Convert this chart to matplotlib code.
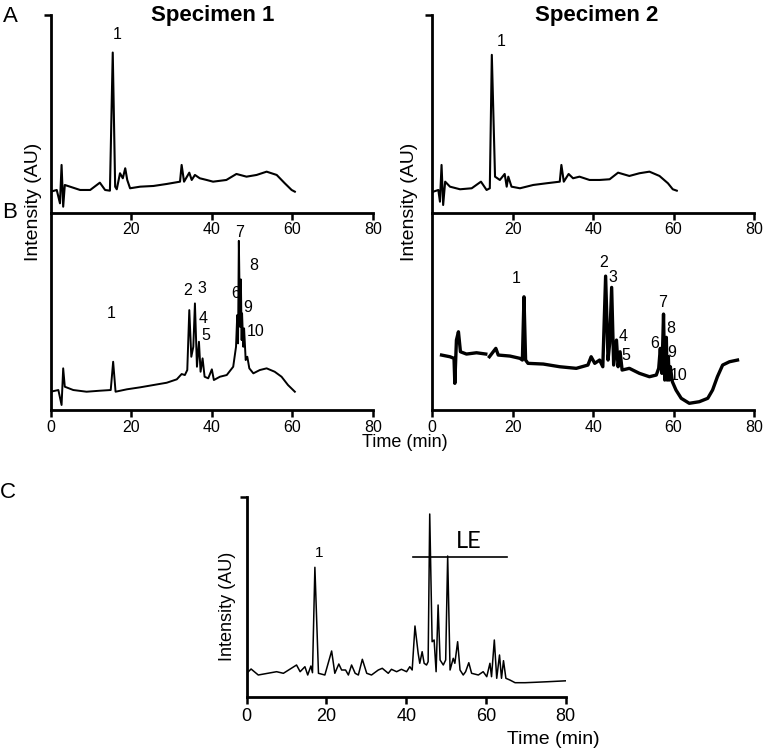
import numpy as np
import matplotlib
matplotlib.use("Agg")
import matplotlib.pyplot as plt

plt.rcParams['font.family'] = ['Liberation Sans', 'DejaVu Sans']

W, H = 765, 752

# ---- data (time in min, intensity in arbitrary units) ----
a1_time = [0, 1.5, 2.3, 2.7, 3.1, 3.5, 4.8, 7.3, 9.8, 12.2, 13.5, 14.7, 15.4, 16.0, 16.4, 17.2,
           17.9, 18.5, 19.0, 19.7, 22.2, 25.5, 28.8, 32.1, 32.5, 33.1, 34.4, 35.0, 35.8, 37.0,
           38.7, 40.3, 43.6, 46.1, 48.6, 51.1, 53.6, 56.1, 58.1, 59.8, 60.6]
a1_int = [21, 22.7, 9.4, 47.7, 6, 27.7, 26, 22.7, 22.7, 30, 22.7, 22, 160, 26, 23.4, 39.4,
          34.4, 44.4, 32.7, 24.4, 26, 26.7, 28.7, 31, 47.7, 31, 40, 32.7, 37.7, 34.4,
          32.7, 31, 32.7, 38.7, 36, 37.7, 41, 37.7, 29.4, 22.7, 21]

a2_time = [0.25, 1.5, 1.9, 2.3, 2.7, 3.2, 4.4, 6.9, 9.8, 12.1, 13.5, 14.3, 14.8, 15.6, 16.8,
           18.0, 18.5, 18.9, 19.7, 21.8, 25.1, 28.4, 31.7, 32.1, 32.7, 33.9, 35.0, 36.6, 39.1,
           41.6, 44.1, 46.2, 49.0, 51.5, 54.0, 56.5, 58.6, 59.8, 60.8]
a2_int = [21, 22.7, 11, 47.7, 7.7, 31, 26, 23.4, 24.4, 31, 22.7, 24.4, 157.7, 36, 32.7,
          38.7, 26, 36, 26, 24.4, 27.7, 29.4, 31, 47.7, 31, 38.7, 34.4, 36, 32.7,
          32.7, 33.4, 40, 36.7, 39.4, 41, 36.7, 29.4, 23.4, 22]

b1_time = [0, 1.9, 2.7, 3.1, 3.5, 5.6, 8.9, 12.2, 14.9, 15.5, 16.1, 18.9, 22.2, 25.5, 28.8,
           31.3, 32.5, 33.3, 33.9, 34.4, 34.9, 35.4, 35.8, 36.3, 36.8, 37.2, 37.7, 38.2, 39.1,
           40.0, 40.5, 42.0, 43.7, 45.3, 46.0, 46.3, 46.5, 46.7, 47.0, 47.2, 47.4, 47.5, 47.8,
           48.0, 48.4, 48.8, 49.3, 50.3, 51.9, 53.6, 55.6, 57.3, 58.9, 60.6]
b1_int = [18.3, 20, 5, 41.7, 23.3, 20, 18.3, 19.3, 20, 48.3, 18.3, 20.7, 22.7, 25, 27.3,
          30.7, 36, 35, 40, 100, 53.3, 63.3, 106.7, 43.3, 68.3, 38.3, 51.7, 33.3, 31.7,
          40.7, 30, 33.3, 35, 43.3, 63.3, 95, 66.7, 169.3, 83.3, 130.7, 70, 96.7, 63.3,
          81.7, 50, 53.3, 41.7, 36.7, 40, 41.7, 38.3, 33.3, 25, 18.3]

b2_time = [2.3, 4.4, 5.4, 5.6, 6.0, 6.5, 7.0, 8.5, 11.0, 13.3, 13.6, 14.2, 15.8, 16.4, 19.3,
           21.8, 22.4, 22.8, 23.2, 23.8, 27.6, 31.7, 35.8, 38.7, 39.5, 40.4, 41.6, 42.4, 43.1,
           43.7, 44.1, 44.6, 45.1, 45.8, 46.2, 46.7, 47.2, 49.0, 51.5, 54.0, 55.7, 56.3, 56.7,
           57.1, 57.5, 57.8, 58.2, 58.4, 58.7, 58.9, 59.2, 59.7, 60.6, 61.9, 63.9, 66.4, 68.5,
           69.7, 70.9, 72.2, 73.9, 75.9]
b2_int = [55, 53.3, 51.7, 26.7, 70, 78.3, 58.3, 56, 57.3, 56, np.nan, 53.3, 61.7, 55, 54,
          51.7, 50, 113.3, 50, 46.7, 46, 43.3, 41.7, 45, 53.3, 46.7, 50, 43.3, 134,
          50, 66.7, 122.7, 45, 70, 43.3, 58.3, 40, 41.7, 36.7, 33.3, 35, 41.7, 61.7,
          36.7, 96, 30, 72.7, 30, 53.3, 30, 43.3, 28.3, 20, 11.7, 6.7, 8.3, 11.7,
          20, 33.3, 45, 48.3, 50]

c_time = [0, 1.1, 2.9, 7.5, 9.2, 12.5, 13.4, 14.6, 15.3, 16.1, 16.5, 17.1, 18.0, 19.6, 21.3,
          22.1, 23.1, 23.8, 24.8, 25.5, 26.3, 27.2, 28.0, 29.0, 30.1, 31.3, 33.0, 34.0, 35.5,
          36.3, 37.6, 38.8, 40.1, 40.9, 41.5, 42.2, 43.0, 43.4, 44.0, 44.5, 45.1, 45.5, 45.9,
          46.5, 47.0, 47.5, 48.0, 48.5, 49.3, 49.9, 50.4, 51.0, 51.8, 52.2, 52.9, 53.5, 54.3,
          54.9, 55.7, 56.4, 58.1, 59.3, 60.2, 61.0, 61.4, 62.1, 62.7, 63.4, 63.9, 64.4, 65.0,
          66.0, 67.3, 69.8, 72.3, 75.6, 80.6]
c_int = [24, 28.3, 22.3, 25.6, 24, 32.3, 25.6, 30.6, 22.3, 31.3, 24.6, 130, 24, 22.3, 46.3,
         24, 33.3, 27.3, 27.3, 22.3, 32.3, 24, 22.3, 38, 24, 22.3, 27.3, 29, 24,
         28, 25.6, 28, 25.6, 30.6, 27.3, 71.3, 44, 34, 45.6, 34, 32.3, 35.6, 183.3,
         55.6, 57.3, 25.6, 92.3, 37.3, 32.3, 37.3, 141.3, 27.3, 39, 34, 55.6, 27.3, 22.3,
         25.6, 34.6, 24, 22.3, 25.6, 20.6, 34, 20.6, 57.3, 19, 42.3, 19, 36.6, 19,
         17.3, 14.6, 14.6, 15, 15.6, 16.6]

# peak labels: (text, time, intensity)
a1_labels = [("1", 16.6, 178)]
a2_labels = [("1", 17.1, 171)]
b1_labels = [("1", 15.1, 97), ("2", 33.9, 120), ("3", 37.5, 122), ("4", 37.8, 92),
             ("5", 38.6, 75), ("6", 46.0, 117), ("7", 46.8, 178), ("8", 50.5, 145),
             ("9", 49.0, 103), ("10", 50.8, 79)]
b2_labels = [("1", 20.9, 132), ("2", 42.6, 148), ("3", 44.9, 133), ("4", 47.5, 74),
             ("5", 48.1, 55), ("6", 55.4, 67), ("7", 57.2, 108), ("8", 59.2, 82),
             ("9", 59.5, 58), ("10", 61.3, 35)]
c_labels = [("1", 18.2, 144)]
le_range = [41.8, 65.4]
le_level = 140


def box(l, t, r, b):
    return [l / W, 1 - b / H, (r - l) / W, (b - t) / H]


def style(ax, sides):
    for s in ["top", "right", "bottom", "left"]:
        ax.spines[s].set_visible(s in sides)
        ax.spines[s].set_linewidth(2)
    ax.tick_params(width=1.8, length=5, labelsize=11.5, pad=2, direction="out")


fig = plt.figure(figsize=(W / 100, H / 100), dpi=100)

panels = [
    (box(50.7, 15, 373, 212.7), a1_time, a1_int, a1_labels, "A", 1.5),
    (box(432.3, 15, 754, 212.7), a2_time, a2_int, a2_labels, "A", 1.5),
    (box(50.7, 212.7, 373, 410), b1_time, b1_int, b1_labels, "B", 1.4),
    (box(432.3, 212.7, 754, 410), b2_time, b2_int, b2_labels, "B", 2.4),
]

for rect, t, y, labels, kind, lw in panels:
    ax = fig.add_axes(rect)
    ax.set_zorder(2 if kind == "A" else 1)
    ax.patch.set_alpha(0)
    ax.plot(t, y, color="black", lw=lw)
    ax.set_xlim(0, 80)
    ax.set_ylim(0, 197.5)
    for txt, tx, ty in labels:
        ax.text(tx, ty, txt, ha="center", va="center", fontsize=11.5)
    style(ax, ["left", "bottom"])
    if kind == "A":
        ax.set_xticks([20, 40, 60, 80])
        ax.set_yticks([197.5])
        ax.set_yticklabels([])
    else:
        ax.set_xticks([0, 20, 40, 60, 80])
        ax.set_yticks([])

# panel C
axc = fig.add_axes(box(246.7, 496.7, 565.7, 697.3))
style(axc, ["left", "bottom"])
axc.plot(c_time, c_int, color="black", lw=1.1)
axc.set_xlim(0, 80)
axc.set_ylim(0, 200.6)
axc.set_xticks([0, 20, 40, 60, 80])
axc.set_yticks([200.6])
axc.set_yticklabels([])
axc.tick_params(axis="x", labelsize=13, pad=3)
axc.plot(le_range, [le_level, le_level], color="black", lw=1.2)
axc.text(sum(le_range) / 2 + 2, le_level + 5, "LE", ha="center", va="bottom",
         fontsize=17, family=["Lato", "DejaVu Sans"])
for txt, tx, ty in c_labels:
    axc.text(tx, ty, txt, ha="center", va="center", fontsize=11)

# figure-level text
fig.text(213 / W, 1 - 15 / H, "Specimen 1", ha="center", va="center", fontsize=16, weight="bold")
fig.text(597 / W, 1 - 15 / H, "Specimen 2", ha="center", va="center", fontsize=16, weight="bold")
fig.text(10 / W, 1 - 17 / H, "A", ha="center", va="center", fontsize=16)
fig.text(10 / W, 1 - 213 / H, "B", ha="center", va="center", fontsize=16)
fig.text(8 / W, 1 - 492 / H, "C", ha="center", va="center", fontsize=16)
fig.text(33 / W, 1 - 202 / H, "Intensity (AU)", ha="center", va="center", rotation=90, fontsize=14)
fig.text(410 / W, 1 - 202 / H, "Intensity (AU)", ha="center", va="center", rotation=90, fontsize=14)
fig.text(405 / W, 1 - 443 / H, "Time (min)", ha="center", va="center", fontsize=13)
fig.text(228 / W, 1 - 606 / H, "Intensity (AU)", ha="center", va="center", rotation=90, fontsize=13)
fig.text(553 / W, 1 - 740 / H, "Time (min)", ha="center", va="center", fontsize=14)

fig.savefig("out.png", dpi=100)
